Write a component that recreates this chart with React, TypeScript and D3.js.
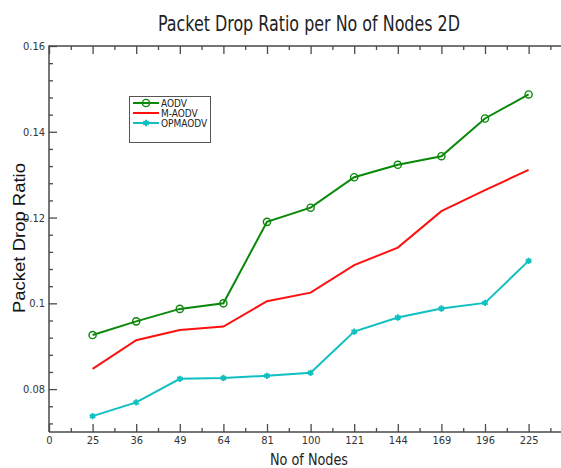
import React, { useRef, useEffect } from 'react';
import * as d3 from 'd3';

// x axis categories (number of nodes)
const nodeLabels = ['0', '25', '36', '49', '64', '81', '100', '121', '144', '169', '196', '225'];
const pointIndex = [1, 2, 3, 4, 5, 6, 7, 8, 9, 10, 11];

// packet drop ratio per protocol
const aodv = [0.0926, 0.0958, 0.0987, 0.1, 0.119, 0.1223, 0.1294, 0.1323, 0.1343, 0.1431, 0.1487];
const mAodv = [0.0847, 0.0914, 0.0938, 0.0946, 0.1005, 0.1025, 0.1089, 0.113, 0.1215, 0.1264, 0.1311];
const opmAodv = [0.0737, 0.0769, 0.0824, 0.0826, 0.0831, 0.0838, 0.0934, 0.0967, 0.0988, 0.1001, 0.1099];

const seriesNames = ['AODV', 'M-AODV', 'OPMAODV'];
const seriesColors = ['#0a880a', '#ff1010', '#10c0c0'];
const yMajor = [0.08, 0.1, 0.12, 0.14, 0.16];

const narrow = "'Liberation Sans Narrow', 'Arial Narrow', 'DejaVu Sans Condensed', sans-serif";

const App = () => {
  const svgRef = useRef<SVGSVGElement>(null);

  useEffect(() => {
    const width = 561, height = 468;
    const left = 49, top = 46, bottom = 432;

    const svg = d3.select(svgRef.current)
      .attr('width', width)
      .attr('height', height);
    svg.selectAll('*').remove();

    svg.append('rect').attr('width', width).attr('height', height).attr('fill', '#fff');

    const x = d3.scaleLinear().domain([0, 12]).range([left, left + 12 * 43.6]);
    const y = d3.scaleLinear().domain([0.07, 0.16]).range([bottom, top]);

    const axisColor = '#4a4a4a';

    const styleAxis = (g, labels) => {
      g.select('.domain').remove();
      g.selectAll('line').attr('stroke', axisColor).attr('stroke-width', 1.3);
      g.selectAll('text')
        .attr('fill', '#333')
        .style('font-family', narrow)
        .style('font-size', labels ? '11px' : '0px');
    };

    // bottom axis
    svg.append('g')
      .attr('transform', `translate(0,${bottom})`)
      .call(d3.axisBottom(x).tickValues(d3.range(0, 12)).tickFormat(i => nodeLabels[i])
        .tickSizeInner(-8).tickSizeOuter(0).tickPadding(4))
      .call(g => styleAxis(g, true));
    svg.append('g')
      .attr('transform', `translate(0,${bottom})`)
      .call(d3.axisBottom(x).tickValues(d3.range(0.5, 12, 1)).tickFormat(() => '')
        .tickSizeInner(-4).tickSizeOuter(0))
      .call(g => styleAxis(g, false));

    // top axis (ticks only)
    svg.append('g')
      .attr('transform', `translate(0,${top})`)
      .call(d3.axisTop(x).tickValues(d3.range(0, 13)).tickFormat(() => '')
        .tickSizeInner(-8).tickSizeOuter(0))
      .call(g => styleAxis(g, false));
    svg.append('g')
      .attr('transform', `translate(0,${top})`)
      .call(d3.axisTop(x).tickValues(d3.range(0.5, 12, 1)).tickFormat(() => '')
        .tickSizeInner(-4).tickSizeOuter(0))
      .call(g => styleAxis(g, false));

    // left axis
    svg.append('g')
      .attr('transform', `translate(${left},0)`)
      .call(d3.axisLeft(y).tickValues(yMajor).tickFormat(d => String(+(+d).toFixed(2)))
        .tickSizeInner(-8).tickSizeOuter(0).tickPadding(4))
      .call(g => styleAxis(g, true));
    svg.append('g')
      .attr('transform', `translate(${left},0)`)
      .call(d3.axisLeft(y).tickValues(d3.range(0.072, 0.16, 0.004).filter(v => Math.abs((v * 100) % 2) > 0.01 && Math.abs((v * 100) % 2 - 2) > 0.01))
        .tickFormat(() => '').tickSizeInner(-4).tickSizeOuter(0))
      .call(g => styleAxis(g, false));

    // frame
    svg.append('path')
      .attr('d', `M${left},${bottom}V${top}H${width}M${left},${bottom}H${width}`)
      .attr('fill', 'none')
      .attr('stroke', axisColor)
      .attr('stroke-width', 1.5);

    // series
    const all = [aodv, mAodv, opmAodv];
    const line = d3.line<number>()
      .x((d, i) => x(pointIndex[i]))
      .y(d => y(d));

    const drawMarker = (g, k, cx, cy) => {
      const c = seriesColors[k];
      if (k === 0) {
        g.append('circle').attr('cx', cx).attr('cy', cy).attr('r', 3.6)
          .attr('fill', 'none').attr('stroke', c).attr('stroke-width', 1.4);
      } else if (k === 1) {
        g.append('path').attr('transform', `translate(${cx},${cy})`)
          .attr('d', d3.symbol(d3.symbolPlus, 16)())
          .attr('fill', c);
      } else {
        g.append('path').attr('transform', `translate(${cx},${cy})`)
          .attr('d', d3.symbol(d3.symbolAsterisk, 28)())
          .attr('fill', 'none').attr('stroke', c).attr('stroke-width', 2);
      }
    };

    all.forEach((vals, k) => {
      const g = svg.append('g');
      g.append('path')
        .datum(vals)
        .attr('fill', 'none')
        .attr('stroke', seriesColors[k])
        .attr('stroke-width', 2)
        .attr('d', line);
      vals.forEach((v, i) => drawMarker(g, k, x(pointIndex[i]), y(v)));
    });

    // legend
    const lg = svg.append('g');
    lg.append('rect')
      .attr('x', 129.5).attr('y', 96.5).attr('width', 81).attr('height', 46)
      .attr('fill', '#fff').attr('stroke', '#555').attr('stroke-width', 1);
    seriesNames.forEach((name, k) => {
      const ly = 103 + k * 10;
      lg.append('line')
        .attr('x1', 133).attr('x2', 159).attr('y1', ly).attr('y2', ly)
        .attr('stroke', seriesColors[k]).attr('stroke-width', 2);
      drawMarker(lg, k, 146, ly);
      lg.append('text')
        .attr('x', 161).attr('y', ly + 3.5)
        .attr('fill', '#222')
        .style('font-family', narrow)
        .style('font-size', '10px')
        .text(name);
    });

    // titles
    svg.append('text')
      .attr('x', 309).attr('y', 31)
      .attr('text-anchor', 'middle')
      .attr('fill', '#222')
      .attr('textLength', 302)
      .attr('lengthAdjust', 'spacingAndGlyphs')
      .style('font-family', "'DejaVu Sans Condensed', 'DejaVu Sans', sans-serif")
      .style('font-size', '21px')
      .text('Packet Drop Ratio per No of Nodes 2D');

    svg.append('text')
      .attr('x', 309).attr('y', 465)
      .attr('text-anchor', 'middle')
      .attr('fill', '#222')
      .attr('textLength', 78)
      .attr('lengthAdjust', 'spacingAndGlyphs')
      .style('font-family', "'DejaVu Sans Condensed', 'DejaVu Sans', sans-serif")
      .style('font-size', '16px')
      .text('No of Nodes');

    svg.append('text')
      .attr('transform', 'translate(25,238) rotate(-90)')
      .attr('text-anchor', 'middle')
      .attr('fill', '#111')
      .attr('textLength', 150)
      .attr('lengthAdjust', 'spacingAndGlyphs')
      .style('font-family', "'Liberation Sans', Arial, sans-serif")
      .style('font-size', '16px')
      .text('Packet Drop Ratio');
  }, []);

  return (
    <div style={{ position: 'absolute', left: 0, top: 0 }}>
      <svg ref={svgRef} style={{ display: 'block' }}></svg>
    </div>
  );
};

export default App;
